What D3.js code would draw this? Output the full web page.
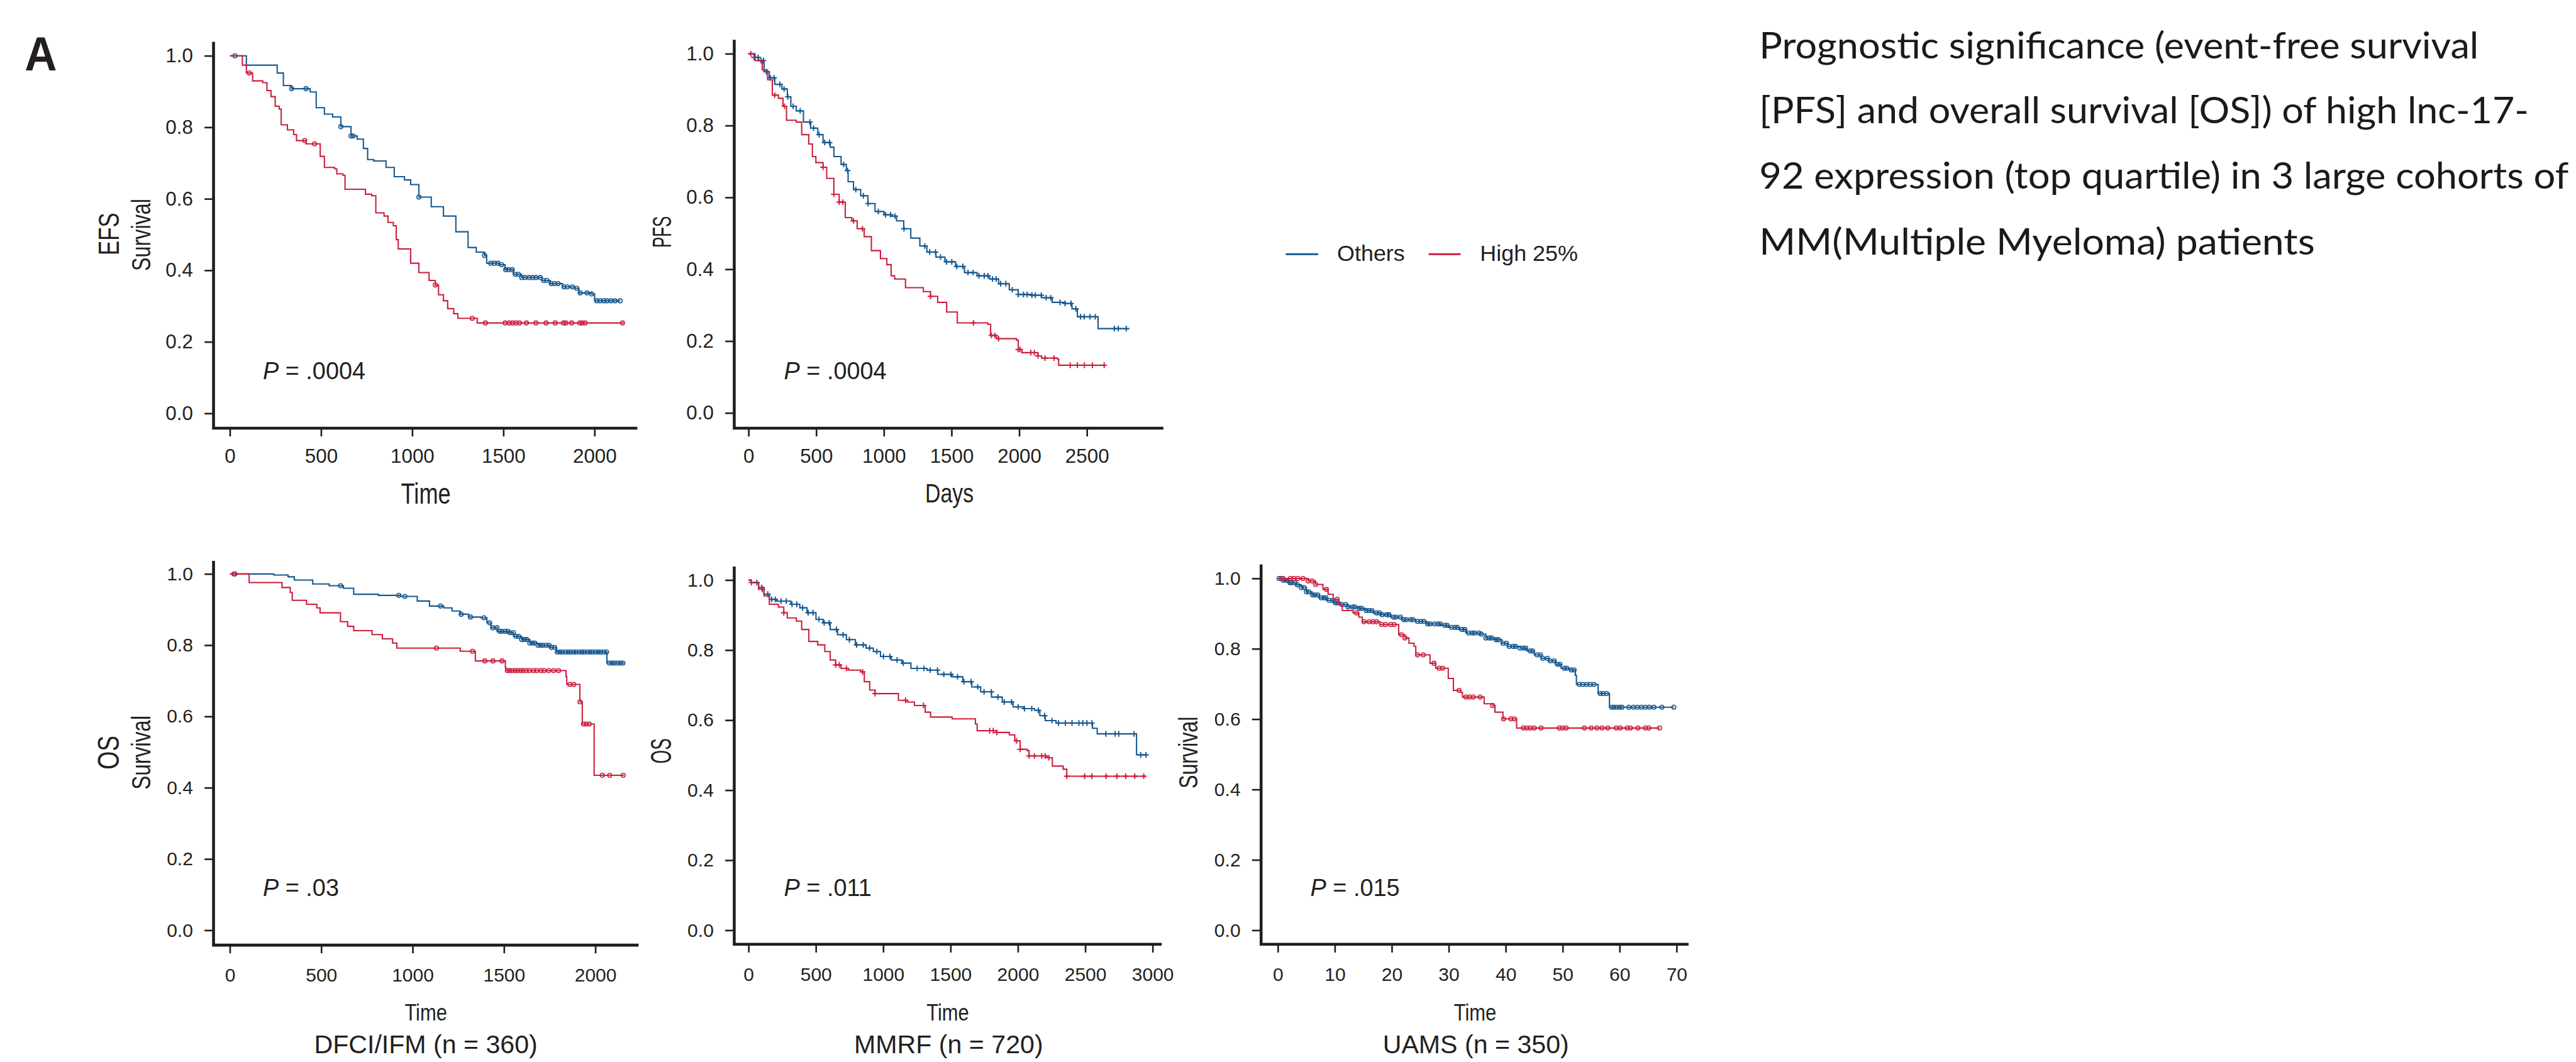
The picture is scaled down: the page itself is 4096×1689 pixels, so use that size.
<!DOCTYPE html>
<html><head><meta charset="utf-8">
<script src="https://cdn.jsdelivr.net/npm/d3@7"></script>
<style>html,body{margin:0;padding:0;background:#fff;overflow:hidden}</style>
</head><body>
<svg id="chart" width="4096" height="1689"></svg>
<script>
// ---------------- DATA ----------------
// Kaplan-Meier step points [time, survival]
const efsOthers = [[0,1],[90,0.974],[259,0.952],[293,0.917],[338,0.908],[440,0.899],[473,0.855],[518,0.837],[563,0.829],[608,0.802],[664,0.776],[698,0.767],[732,0.741],[755,0.710],[788,0.706],[856,0.688],[901,0.662],[957,0.653],[991,0.640],[1036,0.605],[1104,0.578],[1171,0.552],[1239,0.508],[1306,0.464],[1351,0.451],[1396,0.442],[1408,0.420],[1475,0.416],[1509,0.402],[1554,0.389],[1599,0.380],[1712,0.372],[1757,0.363],[1824,0.354],[1892,0.350],[1914,0.337],[1982,0.334],[2000,0.315],[2140,0.315]];
const efsHigh = [[0,1],[68,0.974],[90,0.952],[124,0.930],[180,0.925],[203,0.903],[225,0.886],[248,0.859],[270,0.851],[281,0.807],[315,0.793],[349,0.780],[365,0.763],[417,0.754],[495,0.719],[518,0.688],[574,0.684],[586,0.670],[619,0.666],[631,0.627],[743,0.613],[777,0.609],[800,0.561],[845,0.552],[867,0.534],[896,0.525],[912,0.486],[923,0.460],[991,0.420],[1036,0.394],[1092,0.372],[1126,0.359],[1144,0.332],[1171,0.315],[1194,0.293],[1227,0.279],[1250,0.266],[1356,0.253],[2160,0.253]];
const efsOthersCens = [27,338,417,608,664,676,1036,1396,1430,1450,1470,1490,1512,1528,1548,1565,1582,1600,1618,1641,1660,1678,1702,1720,1738,1762,1780,1800,1832,1850,1878,1902,1921,1958,1983,2012,2030,2051,2068,2090,2112,2140];
const efsHighCens = [106,410,464,1126,1329,1401,1509,1532,1550,1568,1588,1626,1678,1734,1784,1829,1842,1874,1919,1932,1948,2153];

const pfsOthers = [[0,1],[40,0.99],[74,0.981],[114,0.950],[153,0.933],[193,0.915],[246,0.902],[286,0.880],[312,0.854],[352,0.841],[405,0.810],[458,0.793],[511,0.775],[550,0.753],[603,0.740],[630,0.714],[683,0.692],[722,0.675],[735,0.644],[775,0.622],[828,0.605],[881,0.583],[934,0.561],[1000,0.552],[1053,0.548],[1093,0.535],[1146,0.513],[1198,0.487],[1265,0.465],[1317,0.448],[1384,0.434],[1450,0.421],[1529,0.408],[1595,0.391],[1688,0.382],[1780,0.373],[1847,0.360],[1926,0.343],[1992,0.330],[2085,0.328],[2164,0.321],[2243,0.308],[2336,0.305],[2389,0.290],[2429,0.268],[2582,0.235],[2812,0.235]];
const pfsHigh = [[0,1],[48,0.981],[101,0.955],[140,0.928],[175,0.885],[220,0.876],[254,0.854],[280,0.815],[352,0.810],[392,0.775],[444,0.749],[471,0.714],[497,0.697],[550,0.684],[577,0.653],[630,0.609],[669,0.587],[714,0.544],[762,0.535],[802,0.513],[854,0.491],[907,0.452],[974,0.430],[1021,0.413],[1053,0.382],[1079,0.373],[1159,0.349],[1291,0.338],[1344,0.325],[1397,0.308],[1463,0.281],[1542,0.251],[1767,0.247],[1788,0.216],[1833,0.207],[1979,0.203],[1992,0.177],[2019,0.168],[2138,0.159],[2164,0.153],[2283,0.150],[2291,0.133],[2640,0.133]];
const pfsOthersCens = [40,70,92,110,131,160,188,231,262,290,329,381,452,480,521,562,598,702,731,792,848,883,958,1012,1049,1082,1148,1302,1338,1381,1418,1462,1501,1538,1583,1621,1658,1702,1741,1768,1802,1829,1862,1901,1948,1992,2031,2058,2093,2118,2162,2198,2232,2301,2338,2382,2418,2452,2479,2522,2561,2702,2731,2790];
const pfsHighCens = [16,193,265,550,630,669,696,775,841,1344,1661,1794,1820,1847,1992,2005,2085,2111,2138,2190,2257,2376,2429,2481,2540,2627];

const dfciOthers = [[0,1],[240,0.997],[318,0.992],[352,0.983],[453,0.972],[543,0.967],[621,0.960],[677,0.943],[812,0.940],[935,0.937],[1025,0.924],[1092,0.910],[1170,0.905],[1215,0.896],[1260,0.887],[1305,0.879],[1372,0.877],[1406,0.863],[1428,0.849],[1462,0.839],[1529,0.835],[1552,0.825],[1596,0.816],[1641,0.806],[1686,0.800],[1753,0.794],[1787,0.781],[2063,0.750],[2157,0.750]];
const dfciHigh = [[0,1],[105,0.976],[285,0.962],[330,0.948],[341,0.926],[419,0.915],[475,0.905],[493,0.891],[605,0.866],[644,0.853],[677,0.841],[778,0.830],[834,0.818],[890,0.806],[913,0.792],[1260,0.783],[1343,0.756],[1507,0.737],[1511,0.729],[1839,0.712],[1843,0.690],[1915,0.641],[1928,0.579],[1993,0.435],[2157,0.435]];
const dfciOthersCens = [27,605,924,957,1152,1265,1316,1390,1421,1438,1461,1476,1489,1506,1521,1533,1551,1566,1579,1596,1611,1624,1641,1656,1668,1686,1701,1713,1731,1746,1759,1776,1791,1806,1818,1836,1851,1864,1881,1894,1911,1926,1939,1956,1971,1984,2001,2016,2029,2046,2061,2076,2091,2104,2121,2136,2150];
const dfciHighCens = [22,1130,1327,1395,1439,1489,1518,1531,1544,1561,1574,1591,1604,1621,1638,1661,1679,1702,1719,1744,1771,1798,1860,1881,1915,1935,1950,1966,2038,2078,2152];

const mmrfOthers = [[0,1],[20,0.993],[74,0.979],[114,0.960],[154,0.945],[207,0.940],[314,0.931],[380,0.921],[434,0.907],[500,0.888],[553,0.878],[606,0.859],[660,0.844],[726,0.830],[793,0.815],[872,0.806],[926,0.796],[979,0.782],[1059,0.772],[1138,0.763],[1205,0.748],[1324,0.743],[1404,0.731],[1511,0.724],[1590,0.710],[1657,0.695],[1723,0.681],[1803,0.666],[1883,0.652],[1963,0.638],[2043,0.633],[2122,0.628],[2162,0.613],[2202,0.599],[2282,0.592],[2553,0.577],[2588,0.561],[2880,0.501],[2960,0.501]];
const mmrfHigh = [[0,1],[20,0.993],[74,0.974],[114,0.955],[154,0.931],[221,0.923],[261,0.907],[287,0.892],[354,0.883],[394,0.859],[447,0.825],[513,0.815],[566,0.796],[606,0.772],[646,0.758],[686,0.748],[739,0.743],[832,0.738],[859,0.710],[899,0.686],[939,0.676],[1112,0.657],[1178,0.652],[1231,0.642],[1311,0.623],[1351,0.609],[1511,0.604],[1684,0.589],[1697,0.570],[1843,0.565],[1936,0.558],[1976,0.541],[2016,0.517],[2069,0.513],[2082,0.498],[2215,0.493],[2255,0.469],[2335,0.460],[2362,0.440],[2947,0.440]];
const mmrfOthersCens = [61,98,142,171,198,241,279,322,358,401,442,478,522,561,598,652,701,748,802,851,898,952,1001,1049,1102,1148,1251,1302,1348,1402,1449,1502,1551,1598,1652,1701,1748,1802,1851,1898,1952,2001,2048,2102,2151,2198,2252,2301,2352,2401,2452,2481,2512,2549,2652,2721,2748,2862,2911,2950];
const mmrfHighCens = [21,101,261,646,673,726,846,939,1165,1298,1790,1816,1843,1989,2016,2082,2122,2176,2202,2229,2362,2495,2548,2654,2734,2800,2867,2934];

const uamsOthers = [[0,1],[0.9,0.995],[1.9,0.988],[3.1,0.982],[4.1,0.974],[5.0,0.962],[6.0,0.953],[7.2,0.945],[8.5,0.938],[9.7,0.931],[11.0,0.926],[12.3,0.919],[14.2,0.915],[15.4,0.909],[16.7,0.902],[18.2,0.897],[19.8,0.890],[21.7,0.883],[24.2,0.878],[26.1,0.871],[28.6,0.867],[29.9,0.861],[31.8,0.855],[33.0,0.845],[35.5,0.842],[36.5,0.831],[38.1,0.826],[39.3,0.816],[40.3,0.807],[42.5,0.802],[43.7,0.794],[45.0,0.783],[46.2,0.773],[47.5,0.766],[48.7,0.756],[49.7,0.745],[51.3,0.740],[52.2,0.725],[52.4,0.699],[56.2,0.673],[58.2,0.634],[69.5,0.634]];
const uamsHigh = [[0,1],[5.3,0.993],[6.6,0.983],[7.9,0.969],[8.8,0.955],[9.7,0.941],[10.7,0.926],[11.3,0.909],[13.2,0.902],[14.2,0.890],[14.8,0.877],[17.9,0.869],[21.2,0.840],[22.3,0.831],[23.0,0.816],[23.9,0.807],[24.2,0.783],[26.7,0.759],[27.7,0.745],[29.9,0.716],[30.8,0.682],[32.1,0.676],[32.4,0.663],[36.2,0.644],[37.7,0.639],[38.1,0.620],[39.5,0.601],[41.9,0.575],[67.0,0.575]];
const uamsOthersCens = [0.2,0.6,0.9,1.3,1.7,2.1,2.4,3.0,3.4,4.1,4.6,5.0,5.4,6.1,6.5,7.0,7.6,8.1,8.4,9.0,9.6,10.1,10.5,11.2,11.9,12.3,13.1,13.5,14.3,14.7,15.5,16.0,16.5,17.3,17.8,18.3,19.1,19.5,20.3,20.7,21.5,22.1,22.5,23.3,23.7,24.5,25.1,25.6,26.3,26.7,27.5,28.1,28.5,29.3,29.7,30.5,31.1,31.5,32.3,32.8,33.5,34.1,34.5,35.3,35.7,36.5,37.1,37.5,38.3,38.7,39.5,40.1,40.6,41.3,41.7,42.5,43.1,43.5,44.3,44.7,45.5,46.1,46.5,47.3,47.8,48.5,49.1,49.5,50.3,50.7,51.5,52.0,52.9,53.5,54.2,54.8,55.5,56.6,57.1,57.7,58.6,59.0,59.5,60.0,60.4,61.6,62.4,63.1,63.8,64.5,65.2,66.0,67.4,69.5];
const uamsHighCens = [0.9,2.2,2.8,3.5,4.4,5.3,6.0,6.6,8.5,10.4,13.8,15.1,16.0,16.7,17.3,18.2,18.9,19.8,20.4,21.7,22.3,24.5,25.5,27.4,28.3,28.9,31.8,33.0,33.6,34.3,35.5,37.7,39.6,40.9,41.5,43.1,43.7,44.3,45.0,46.2,49.4,50.0,50.6,53.8,55.0,56.0,56.9,57.9,59.4,60.1,61.3,61.9,63.2,64.5,65.1,67.0];

// Tick values
const dayTicks2000 = [0,500,1000,1500,2000];
const dayTicks2500 = [0,500,1000,1500,2000,2500];
const dayTicks3000 = [0,500,1000,1500,2000,2500,3000];
const monthTicks = [0,10,20,30,40,50,60,70];
const survTicks = [0,0.2,0.4,0.6,0.8,1.0];

// Labels
const seriesNames = ["Others","High 25%"];
const pValues = [".0004",".0004",".03",".011",".015"];
const cohortNames = ["DFCI/IFM (n = 360)","MMRF (n = 720)","UAMS (n = 350)"];
const descLines = ["Prognostic significance (event-free survival","[PFS] and overall survival [OS]) of high lnc-17-","92 expression (top quartile) in 3 large cohorts of","MM(Multiple Myeloma) patients"];

// ---------------- STYLE ----------------
const BLUE = "#17588f", RED = "#cc1f3d", AX = "#1e1e1e", TXT = "#231f20";
const FONT = "'Liberation Sans', Arial, sans-serif";
const S = 4096/6273;

const svg = d3.select("#chart");
svg.append("rect").attr("width",4096).attr("height",1689).attr("fill","#fff");
const root = svg.append("g").attr("transform", `scale(${S})`);

function survAt(pts, t){
  const i = d3.bisector(d=>d[0]).right(pts, t) - 1;
  return pts[Math.max(0,i)][1];
}
function stext(parent, str, x, y, size, sx, rot, anchor){
  return parent.append("text")
    .attr("transform", `translate(${x},${y}) rotate(${rot||0}) scale(${sx},1)`)
    .attr("text-anchor", anchor||"middle")
    .attr("font-family", FONT).attr("font-size", size).attr("fill", TXT)
    .text(str);
}

function drawPanel(c){
  const x = d3.scaleLinear().domain(c.xDomain).range(c.xRange);
  const y = d3.scaleLinear().domain([0,1]).range(c.yRange);
  const g = root.append("g");

  const xa = g.append("g").attr("transform", `translate(0,${c.xAxisY})`)
    .call(d3.axisBottom(x).tickValues(c.xTicks).tickFormat(d3.format("d")).tickSize(20).tickPadding(c.xPad));
  xa.select(".domain").remove();
  xa.selectAll(".tick line").attr("stroke", AX).attr("stroke-width", 4);
  xa.selectAll(".tick text").attr("font-family", FONT).attr("font-size", c.tickFont).attr("fill", TXT);

  const ya = g.append("g").attr("transform", `translate(${c.yAxisX},0)`)
    .call(d3.axisLeft(y).tickValues(survTicks).tickFormat(d3.format(".1f")).tickSize(22).tickPadding(28));
  ya.select(".domain").remove();
  ya.selectAll(".tick line").attr("stroke", AX).attr("stroke-width", 4);
  ya.selectAll(".tick text").attr("font-family", FONT).attr("font-size", c.tickFont).attr("fill", TXT);

  g.append("path")
    .attr("d", `M${c.yAxisX},${c.yAxisTop}V${c.xAxisY}H${c.xAxisRight}`)
    .attr("fill","none").attr("stroke", AX).attr("stroke-width", 7).attr("stroke-linejoin","miter");

  const line = d3.line().x(d=>x(d[0])).y(d=>y(d[1])).curve(d3.curveStepAfter);
  const series = [[c.others, c.othersCens, BLUE],[c.high, c.highCens, RED]];
  series.forEach(([pts, cens, col])=>{
    g.append("path").datum(pts).attr("d", line)
      .attr("fill","none").attr("stroke", col).attr("stroke-width", 3.2);
    const m = g.append("g");
    cens.forEach(t=>{
      const cx = x(t), cy = y(survAt(pts, t));
      if (c.marker === "circle"){
        m.append("circle").attr("cx",cx).attr("cy",cy).attr("r",5)
          .attr("fill","none").attr("stroke",col).attr("stroke-width",2.4);
      } else {
        m.append("path").attr("d", `M${cx-7},${cy}H${cx+7}M${cx},${cy-7}V${cy+7}`)
          .attr("stroke",col).attr("stroke-width",3).attr("fill","none");
      }
    });
  });

  stext(g, c.xTitle.text, c.xTitle.x, c.xTitle.y, c.xTitle.size, c.xTitle.sx, 0, "middle");
  c.yTitles.forEach(t=> stext(g, t.text, t.x, t.y, t.size, t.sx, -90, "middle"));

  const p = g.append("text").attr("x", c.pPos[0]).attr("y", c.pPos[1])
    .attr("font-family", FONT).attr("font-size", 58).attr("fill", TXT);
  p.append("tspan").attr("font-style","italic").text("P");
  p.append("tspan").text(" = " + c.pText);

  if (c.caption){
    stext(g, c.caption.text, c.caption.x, c.caption.y, 63, 1, 0, "middle");
  }
}

const panels = [
  { xDomain:[0,2000], xRange:[560,1448], yRange:[1007,136], yAxisX:520, yAxisTop:102, xAxisY:1043, xAxisRight:1552,
    xTicks:dayTicks2000, xPad:30, tickFont:48, others:efsOthers, high:efsHigh, othersCens:efsOthersCens, highCens:efsHighCens,
    marker:"circle", xTitle:{text:"Time", x:1037, y:1227, size:71, sx:0.78},
    yTitles:[{text:"EFS", x:290, y:570, size:72, sx:0.74},{text:"Survival", x:366, y:572, size:66, sx:0.75}],
    pPos:[640,924], pText:pValues[0] },
  { xDomain:[0,2500], xRange:[1823,2647], yRange:[1006,131], yAxisX:1788, yAxisTop:97, xAxisY:1043, xAxisRight:2833,
    xTicks:dayTicks2500, xPad:30, tickFont:48, others:pfsOthers, high:pfsHigh, othersCens:pfsOthersCens, highCens:pfsHighCens,
    marker:"plus", xTitle:{text:"Days", x:2312, y:1223, size:64, sx:0.81},
    yTitles:[{text:"PFS", x:1634, y:565, size:66, sx:0.6}],
    pPos:[1909,924], pText:pValues[1] },
  { xDomain:[0,2000], xRange:[560,1450], yRange:[2266,1398], yAxisX:520, yAxisTop:1366, xAxisY:2302, xAxisRight:1555,
    xTicks:dayTicks2000, xPad:36, tickFont:46, others:dfciOthers, high:dfciHigh, othersCens:dfciOthersCens, highCens:dfciHighCens,
    marker:"circle", xTitle:{text:"Time", x:1037, y:2485, size:57, sx:0.83},
    yTitles:[{text:"OS", x:290, y:1833, size:74, sx:0.77},{text:"Survival", x:366, y:1833, size:66, sx:0.77}],
    pPos:[640,2183], pText:pValues[2], caption:{text:cohortNames[0], x:1037, y:2566} },
  { xDomain:[0,3000], xRange:[1823,2807], yRange:[2266,1413], yAxisX:1788, yAxisTop:1380, xAxisY:2300, xAxisRight:2829,
    xTicks:dayTicks3000, xPad:36, tickFont:46, others:mmrfOthers, high:mmrfHigh, othersCens:mmrfOthersCens, highCens:mmrfHighCens,
    marker:"plus", xTitle:{text:"Time", x:2308, y:2485, size:57, sx:0.83},
    yTitles:[{text:"OS", x:1634, y:1829, size:70, sx:0.61}],
    pPos:[1909,2183], pText:pValues[3], caption:{text:cohortNames[1], x:2310, y:2566} },
  { xDomain:[0,70], xRange:[3112,4083], yRange:[2266,1409], yAxisX:3071, yAxisTop:1375, xAxisY:2300, xAxisRight:4112,
    xTicks:monthTicks, xPad:36, tickFont:46, others:uamsOthers, high:uamsHigh, othersCens:uamsOthersCens, highCens:uamsHighCens,
    marker:"circle", xTitle:{text:"Time", x:3592, y:2485, size:57, sx:0.83},
    yTitles:[{text:"Survival", x:2916, y:1833, size:64, sx:0.77}],
    pPos:[3191,2183], pText:pValues[4], caption:{text:cohortNames[2], x:3594, y:2566} }
];
panels.forEach(drawPanel);

root.append("text").attr("transform","translate(60,171) scale(0.93,1)")
  .attr("font-family", FONT).attr("font-weight","bold").attr("font-size",117).attr("fill",TXT).text("A");

const lg = root.append("g");
[[3131,3210,3256,BLUE,seriesNames[0]],[3479,3557,3604,RED,seriesNames[1]]].forEach(([a,b,tx,col,name])=>{
  lg.append("line").attr("x1",a).attr("x2",b).attr("y1",619).attr("y2",619).attr("stroke",col).attr("stroke-width",4.5);
  lg.append("text").attr("x",tx).attr("y",636).attr("font-family",FONT).attr("font-size",55).attr("fill",TXT).text(name);
});

const descBase = [142,300,460,620];
const descLen = [1752,1874,1971,1353];
descLines.forEach((s,i)=>{
  root.append("text").attr("x",4284).attr("y",descBase[i])
    .attr("font-family","Lato, 'Open Sans', sans-serif").attr("font-size",88).attr("fill","#1a1a1a")
    .attr("textLength",descLen[i]).attr("lengthAdjust","spacingAndGlyphs")
    .text(s);
});
</script>
</body></html>
